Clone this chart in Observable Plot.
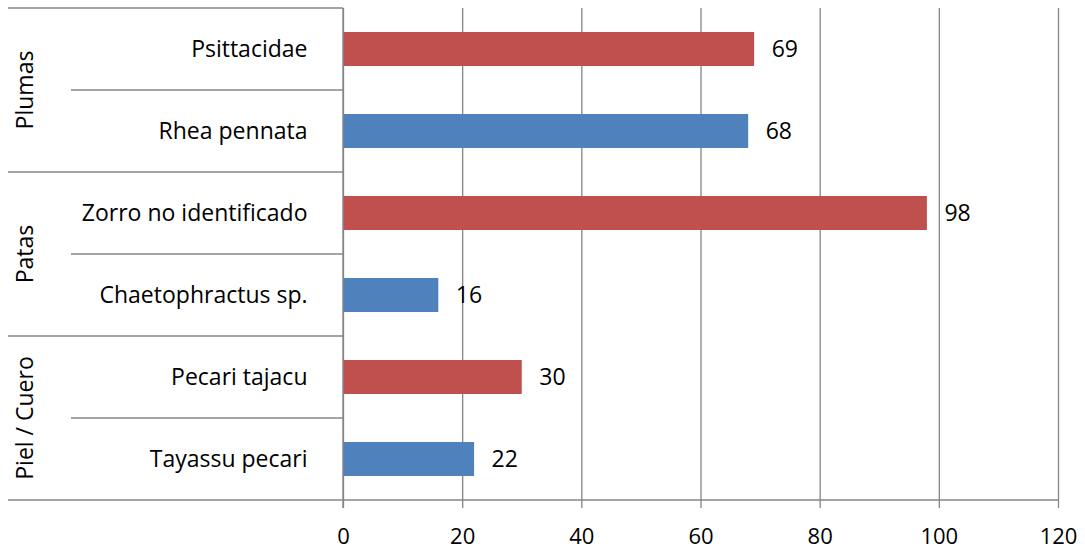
<!DOCTYPE html>
<html><head><meta charset="utf-8">
<script src="https://cdn.jsdelivr.net/npm/d3@7"></script>
<script src="https://cdn.jsdelivr.net/npm/@observablehq/plot@0.6"></script>
<style>html,body{margin:0;padding:0;background:#fff;overflow:hidden}</style>
</head><body><div id="chart"></div>
<script>
const categories = ["Psittacidae","Rhea pennata","Zorro no identificado","Chaetophractus sp.","Pecari tajacu","Tayassu pecari"];
const values = [69,68,98,16,30,22];
const groupOf = ["Plumas","Plumas","Patas","Patas","Piel / Cuero","Piel / Cuero"];
const groups = ["Plumas","Patas","Piel / Cuero"];
const xTicks = [0,20,40,60,80,100,120];

const RED = "#C0504D", BLUE = "#4F81BD", GRID = "#868686";
const data = categories.map((c,i)=>({name:c, value:values[i], group:groupOf[i], idx:i}));
const FONT = "'Open Sans', Lato, sans-serif";

const chart = Plot.plot({
  width:1085, height:552,
  marginLeft:343, marginRight:27, marginTop:8, marginBottom:52,
  style:{fontFamily:FONT, fontSize:"22px", background:"white", color:"black"},
  x:{domain:[0,120]},
  y:{domain:categories, padding:0},
  marks:[
    Plot.gridX(xTicks, {stroke:GRID, strokeOpacity:1, strokeWidth:1.3}),
    Plot.barX(data, {x:"value", y:"name", fill:d=> d.idx%2===0 ? RED : BLUE, insetTop:24, insetBottom:24}),
    Plot.text(data, {x:"value", y:"name", text:d=>String(d.value), textAnchor:"start", dx:17, fontSize:23, fill:"black"}),
    Plot.axisX({ticks:xTicks, tickSize:8, tickPadding:20, stroke:GRID, strokeWidth:1.3, fill:"black", fontSize:22, label:null}),
    Plot.axisY({tickSize:0, tickPadding:36, fontSize:23, fill:"black", label:null})
  ]
});
document.getElementById("chart").appendChild(chart);

// multi-level category axis structure
const svg = d3.select(chart);
const ys = chart.scale("y");
const xs = chart.scale("x");
const step = ys.step ?? ys.bandwidth;
const x0 = xs.apply(0), xMax = xs.apply(120);
const yTop = ys.apply(categories[0]);
const yBottom = ys.apply(categories[categories.length-1]) + step;
const g = svg.append("g").attr("stroke", GRID).attr("stroke-width", 1.3).attr("fill","none");
g.append("line").attr("x1",x0).attr("x2",x0).attr("y1",yTop).attr("y2",yBottom+8);
g.append("line").attr("x1",8).attr("x2",x0).attr("y1",yTop).attr("y2",yTop);
g.append("line").attr("x1",8).attr("x2",xMax).attr("y1",yBottom).attr("y2",yBottom);
categories.forEach((c,i)=>{
  if (i===0) return;
  const y = ys.apply(c);
  const groupBoundary = groupOf[i] !== groupOf[i-1];
  g.append("line").attr("x1", groupBoundary ? 8 : 71).attr("x2", x0).attr("y1", y).attr("y2", y);
});
groups.forEach(gr=>{
  const idxs = categories.map((c,i)=>i).filter(i=>groupOf[i]===gr);
  const y1 = ys.apply(categories[idxs[0]]);
  const y2 = ys.apply(categories[idxs[idxs.length-1]]) + step;
  const cy = (y1+y2)/2;
  svg.append("text").attr("transform",`translate(25,${cy}) rotate(-90)`)
    .attr("text-anchor","middle").attr("dy","0.35em")
    .attr("font-family",FONT).attr("font-size",23).attr("fill","black").text(gr);
});
</script></body></html>
